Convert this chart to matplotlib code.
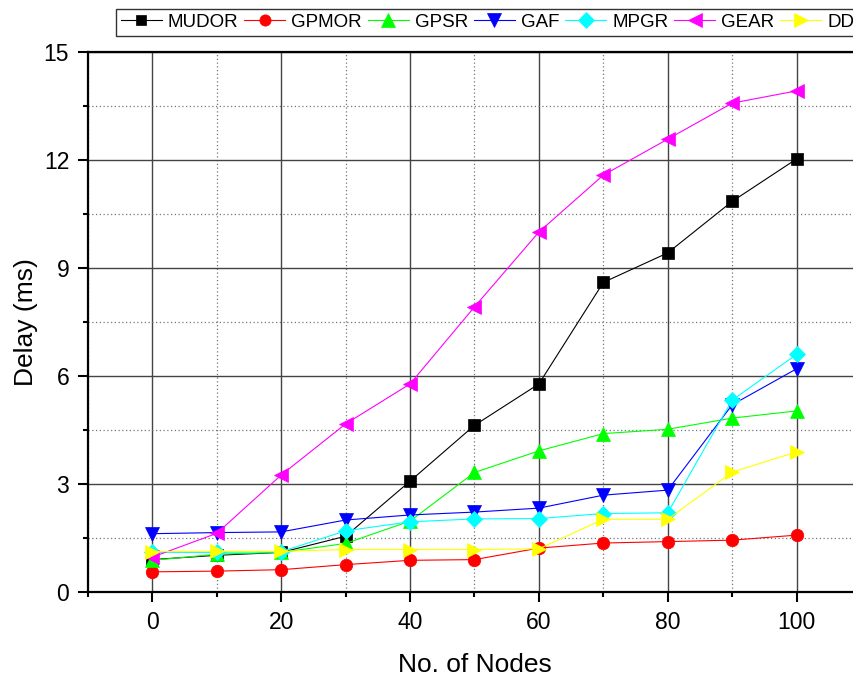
import matplotlib
matplotlib.use("Agg")
import matplotlib.pyplot as plt
from matplotlib.ticker import MultipleLocator

plt.rcParams['font.family'] = ['Liberation Sans', 'DejaVu Sans']

nodes = [0, 10, 20, 30, 40, 50, 60, 70, 80, 90, 100]
mudor = [0.90, 1.02, 1.10, 1.55, 3.08, 4.63, 5.78, 8.60, 9.42, 10.85, 12.03]
gpmor = [0.56, 0.58, 0.62, 0.76, 0.88, 0.90, 1.22, 1.36, 1.40, 1.44, 1.58]
gpsr = [0.88, 1.05, 1.10, 1.35, 1.97, 3.32, 3.92, 4.40, 4.52, 4.83, 5.03]
gaf = [1.62, 1.65, 1.67, 2.00, 2.14, 2.22, 2.33, 2.69, 2.83, 5.20, 6.20]
mpgr = [1.10, 1.10, 1.12, 1.70, 1.95, 2.03, 2.04, 2.18, 2.20, 5.33, 6.60]
gear = [0.97, 1.63, 3.25, 4.67, 5.78, 7.92, 10.00, 11.58, 12.58, 13.58, 13.92]
dd = [1.12, 1.13, 1.13, 1.18, 1.18, 1.18, 1.20, 2.02, 2.02, 3.33, 3.89]

series_names = ['MUDOR', 'GPMOR', 'GPSR', 'GAF', 'MPGR', 'GEAR', 'DD']
series_vals = [mudor, gpmor, gpsr, gaf, mpgr, gear, dd]
colors = ['#000000', '#FF0000', '#00FF00', '#0000FF', '#00FFFF', '#FF00FF', '#FFFF00']
markers = ['s', 'o', '^', 'v', 'D', '<', '>']
msizes = [8, 9, 10.5, 10.5, 8.5, 10.5, 10.5]

x_label = 'No. of Nodes'
y_label = 'Delay (ms)'

fig = plt.figure(figsize=(8.54, 6.77), dpi=100)
ax = fig.add_axes([88/854, 85/677, 773/854, 540/677])

handles = []
for name, vals, c, m, ms in zip(series_names, series_vals, colors, markers, msizes):
    h, = ax.plot(nodes, vals, color=c, marker=m, markersize=ms, linewidth=0.8,
                 markeredgecolor=c, markeredgewidth=0.5, label=name, zorder=3)
    handles.append(h)

ax.set_xlim(-10, 110)
ax.set_ylim(0, 15)
ax.xaxis.set_major_locator(MultipleLocator(20))
ax.xaxis.set_minor_locator(MultipleLocator(10))
ax.yaxis.set_major_locator(MultipleLocator(3))
ax.yaxis.set_minor_locator(MultipleLocator(1.5))

ax.grid(which='major', color='#444444', linewidth=1.0, linestyle='-', zorder=0)
ax.grid(which='minor', color='#777777', linewidth=0.9, linestyle=(0, (1, 2)), zorder=0)
ax.set_axisbelow(True)

for s in ['left', 'bottom', 'top']:
    ax.spines[s].set_linewidth(1.6)
ax.spines['right'].set_visible(False)

ax.tick_params(which='major', direction='out', length=7.5, width=1.5, labelsize=16.5, pad=6)
ax.tick_params(which='minor', direction='out', length=3.5, width=1.5)
ax.tick_params(top=False, right=False)

ax.set_xlabel(x_label, fontsize=19, labelpad=14)
ax.set_ylabel(y_label, fontsize=19, labelpad=4)

leg = fig.legend(handles=handles, loc='upper left', bbox_to_anchor=(116/854, 1 - 9/677),
                 ncol=7, fontsize=13.5, frameon=True, fancybox=False, edgecolor='black',
                 handlelength=2.2, handletextpad=0.3, columnspacing=0.32,
                 borderpad=0.25, borderaxespad=0, markerscale=0.9)
leg.get_frame().set_linewidth(1.0)

fig.savefig('out.png', dpi=100)
